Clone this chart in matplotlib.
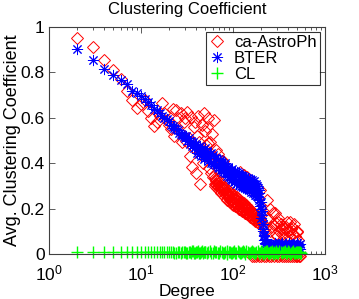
import matplotlib
matplotlib.use("Agg")
import matplotlib.pyplot as plt
from matplotlib.ticker import LogLocator, NullFormatter

plt.rcParams['font.family'] = ['Liberation Sans', 'DejaVu Sans']
plt.rcParams['mathtext.fontset'] = 'custom'
plt.rcParams['mathtext.rm'] = 'Liberation Sans'
plt.rcParams['mathtext.it'] = 'Liberation Sans:italic'

# ca-AstroPh: average clustering coefficient per degree
astro_deg = [2, 3, 4, 5, 6, 7, 8, 9, 10, 11, 12, 13, 14, 15, 16, 17, 18, 19, 20,
             21, 22, 23, 24, 25, 26, 27, 28, 29, 30, 31, 32, 33, 34, 35, 36, 37, 38, 39, 40,
             41, 42, 43, 44, 45, 46, 47, 48, 49, 50, 51, 52, 53, 54, 55, 56, 57, 58, 59,
             60, 62, 63, 64, 65, 66, 67, 68, 69, 70, 72, 74, 75, 76, 78, 80, 82, 84, 86, 88,
             90, 92, 95, 98, 100, 103, 106, 109, 112, 115, 118, 119, 121, 125, 128, 130, 132,
             136, 140, 141, 145, 150, 152, 155, 160, 166, 172, 178, 180, 185, 192, 196, 200,
             212, 220, 230, 233, 250, 260, 275, 285, 295, 300, 310, 330, 340, 350, 360, 380,
             400, 415, 440, 470, 490, 510,
             65, 68, 71, 73, 77, 79, 81, 83, 87, 89, 91, 93, 97, 99, 102, 104, 107, 110,
             113, 116, 120, 123, 126, 129, 133, 135, 138, 143, 147, 152, 157, 163, 168,
             175, 182, 188, 195,
             63, 66, 70, 74, 78, 82, 85, 88, 92, 96, 100, 101, 105, 108, 111, 114, 117, 122,
             124, 127, 131, 134, 137, 139, 142, 146, 149, 153, 156, 159, 162, 165, 169, 173,
             177, 183, 187, 193, 198,
             240, 255, 270, 290, 305, 320, 335, 355, 370, 390, 405, 425, 450, 460, 480, 500,
             160, 170, 180, 190, 200, 215, 230, 245, 260, 280, 300, 320, 340, 360, 380,
             400, 420, 440, 460, 480, 500, 520, 530]
astro_cc = [0.95, 0.91, 0.855, 0.81, 0.77, 0.72, 0.68, 0.645, 0.66, 0.68, 0.63, 0.60, 0.565, 0.58, 0.61, 0.665, 0.62, 0.59, 0.57,
            0.55, 0.64, 0.52, 0.635, 0.60, 0.54, 0.62, 0.495, 0.58, 0.60, 0.50, 0.625, 0.51, 0.43, 0.605, 0.385, 0.47, 0.56, 0.58, 0.355,
            0.52, 0.61, 0.495, 0.31, 0.45, 0.57, 0.40, 0.62, 0.54, 0.43, 0.48, 0.56, 0.49, 0.60, 0.38, 0.495, 0.355, 0.44, 0.53,
            0.34, 0.59, 0.30, 0.31, 0.33, 0.46, 0.29, 0.44, 0.31, 0.28, 0.30, 0.27, 0.41, 0.29, 0.41, 0.28, 0.25, 0.27, 0.24, 0.26,
            0.25, 0.23, 0.255, 0.22, 0.245, 0.23, 0.21, 0.24, 0.22, 0.20, 0.23, 0.36, 0.21, 0.19, 0.22, 0.20, 0.35,
            0.18, 0.21, 0.34, 0.19, 0.17, 0.325, 0.195, 0.16, 0.18, 0.15, 0.17, 0.27, 0.15, 0.16, 0.28, 0.14,
            0.19, 0.10, 0.12, 0.24, 0.20, 0.12, 0.18, 0.18, 0.135, 0.08, 0.16, 0.11, 0.09, 0.12, 0.07, 0.12,
            0.10, 0.14, 0.12, 0.08, 0.095, 0.06,
            0.32, 0.30, 0.315, 0.29, 0.30, 0.27, 0.285, 0.26, 0.275, 0.25, 0.265, 0.24, 0.26, 0.23, 0.25, 0.22, 0.24, 0.21,
            0.235, 0.20, 0.225, 0.195, 0.215, 0.19, 0.21, 0.18, 0.20, 0.175, 0.195, 0.17, 0.185, 0.16, 0.175,
            0.16, 0.155, 0.165, 0.15,
            0.335, 0.31, 0.325, 0.30, 0.285, 0.295, 0.265, 0.28, 0.255, 0.27, 0.215, 0.265, 0.245, 0.225, 0.25, 0.215, 0.24, 0.205,
            0.23, 0.20, 0.225, 0.195, 0.215, 0.185, 0.205, 0.18, 0.20, 0.165, 0.19, 0.17, 0.185, 0.155, 0.17, 0.145,
            0.165, 0.14, 0.16, 0.135, 0.155,
            0.15, 0.10, 0.13, 0.09, 0.14, 0.10, 0.13, 0.09, 0.11, 0.14, 0.08, 0.11, 0.09, 0.13, 0.07, 0.10,
            -0.01, -0.01, -0.01, -0.01, -0.01, -0.01, -0.01, -0.01, -0.01, -0.01, -0.01, -0.01, -0.01, -0.01, -0.01,
            -0.01, -0.01, -0.01, -0.01, -0.01, -0.01, -0.01, -0.01]

# BTER model
bter_deg = [2, 3, 4, 5, 6, 7, 8, 9, 10, 11, 12, 13, 14, 15, 16, 17, 18, 19, 20,
            21, 22, 23, 24, 25, 26, 27, 28, 29, 30, 31, 32, 33, 34, 35, 36, 37, 38, 39,
            40, 41, 42, 43, 44, 45, 46, 47, 48, 49, 50, 52, 54, 56, 58, 60, 62, 64, 66, 68,
            70, 72, 74, 76, 78, 80, 82, 84, 86, 88, 90, 92, 94, 96, 98, 100, 103, 106, 109,
            112, 115, 118, 121, 124, 127, 130, 134, 138, 142, 146, 150, 154, 158, 162, 166,
            170, 174, 178, 182, 186, 190, 194, 198, 202, 205, 208, 211, 214, 217, 220, 225,
            230, 240, 250, 260, 270, 280, 290, 300, 315, 330, 345, 360, 380, 400, 420, 440,
            460, 480, 500, 520, 540,
            53, 57, 61, 65, 69, 73, 77, 81, 85, 89, 93, 97, 101, 104, 107, 110, 113, 116,
            119, 122, 125, 128, 132, 136, 140, 144, 148, 152, 156, 160, 164, 168, 172, 176,
            180, 184, 188, 192, 196, 200, 204, 210, 213, 216, 219,
            235, 255, 265, 285, 295, 310, 322, 338, 352, 370, 390, 410, 430, 450, 470, 490,
            510, 530]
bter_cc = [0.905, 0.855, 0.815, 0.79, 0.765, 0.75, 0.72, 0.71, 0.695, 0.685, 0.67, 0.655, 0.64, 0.635, 0.62, 0.61, 0.60, 0.595, 0.585,
           0.57, 0.565, 0.555, 0.55, 0.545, 0.535, 0.53, 0.525, 0.52, 0.51, 0.52, 0.50, 0.51, 0.485, 0.50, 0.475, 0.495, 0.465, 0.485,
           0.48, 0.445, 0.47, 0.44, 0.475, 0.43, 0.46, 0.445, 0.42, 0.465, 0.43, 0.455, 0.41, 0.44, 0.40, 0.435, 0.395, 0.425, 0.39, 0.42,
           0.38, 0.415, 0.37, 0.40, 0.36, 0.395, 0.355, 0.385, 0.345, 0.38, 0.34, 0.37, 0.33, 0.365, 0.325, 0.36, 0.315, 0.355, 0.31,
           0.35, 0.305, 0.34, 0.30, 0.345, 0.295, 0.335, 0.29, 0.33, 0.285, 0.325, 0.28, 0.32, 0.275, 0.315, 0.27,
           0.31, 0.26, 0.30, 0.255, 0.29, 0.24, 0.27, 0.21, 0.23, 0.17, 0.19, 0.13, 0.11, 0.085, 0.065, 0.05,
           0.045, 0.04, 0.035, 0.045, 0.04, 0.03, 0.045, 0.04, 0.035, 0.045, 0.04, 0.03, 0.045, 0.04, 0.035, 0.04,
           0.03, 0.04, 0.035, 0.03, 0.02,
           0.425, 0.445, 0.40, 0.425, 0.385, 0.41, 0.37, 0.40, 0.36, 0.385, 0.345, 0.375, 0.34, 0.365, 0.325, 0.36, 0.32, 0.355,
           0.31, 0.35, 0.305, 0.345, 0.30, 0.34, 0.295, 0.335, 0.29, 0.33, 0.285, 0.325, 0.28, 0.32, 0.27, 0.31,
           0.26, 0.30, 0.25, 0.28, 0.23, 0.20, 0.16, 0.13, 0.10, 0.08, 0.06,
           0.05, 0.04, 0.03, 0.05, 0.035, 0.045, 0.03, 0.05, 0.035, 0.045, 0.03, 0.05, 0.04, 0.045, 0.035, 0.05,
           0.04, 0.045]

# Chung-Lu model
cl_deg = [2, 3, 4, 5, 6, 7, 8, 9, 10, 11, 12, 13, 14, 15, 16, 17, 18, 19, 20, 22, 24, 26, 28,
          30, 32, 34, 36, 38, 40, 43, 46, 50, 54, 58, 62, 66, 70, 75, 80, 85, 90, 95, 100,
          106, 112, 118, 125, 132, 140, 148, 156, 165, 175, 185, 195, 205, 215, 230, 245,
          260, 275, 290, 310, 330, 350, 370, 390, 410, 430, 450, 470, 490, 510, 530, 550,
          21, 23, 25, 27, 29, 31, 33, 35, 37, 39, 41, 42, 44, 45, 47, 48, 49, 52, 56, 60,
          64, 68, 72, 77, 82, 87, 92, 97, 103, 109, 115, 121, 128, 136, 144, 152, 160, 170,
          180, 190, 200, 210, 220, 225, 235, 240, 250, 255, 265, 270, 280, 285, 295, 300,
          320, 340, 360, 380, 400, 420, 440, 460, 480, 500, 520, 540]
cl_cc = [0.007, 0.007, 0.008, 0.007, 0.008, 0.007, 0.008, 0.008, 0.007, 0.008, 0.009, 0.007, 0.008, 0.009, 0.007, 0.008, 0.009, 0.007, 0.008, 0.010, 0.006, 0.009, 0.007,
         0.011, 0.005, 0.009, 0.012, 0.006, 0.010, 0.004, 0.012, 0.007, 0.010, 0.005, 0.012, 0.008, 0.004, 0.011, 0.006, 0.012, 0.009, 0.004, 0.011,
         0.006, 0.012, 0.003, 0.010, 0.007, 0.012, 0.004, 0.009, 0.011, 0.005, 0.012, 0.003, 0.010, 0.007, 0.012, 0.004,
         0.010, 0.006, 0.012, 0.003, 0.011, 0.007, 0.012, 0.004, 0.010, 0.006, 0.012, 0.003, 0.011, 0.007, 0.010, 0.005,
         0.008, 0.006, 0.010, 0.005, 0.009, 0.004, 0.011, 0.006, 0.012, 0.003, 0.009, 0.012, 0.005, 0.010, 0.003, 0.011, 0.007, 0.004, 0.012, 0.006,
         0.010, 0.003, 0.012, 0.005, 0.009, 0.002, 0.011, 0.006, 0.012, 0.003, 0.009, 0.005, 0.012, 0.002, 0.010, 0.006, 0.012, 0.003,
         0.009, 0.005, 0.012, 0.002, 0.010, 0.006, 0.012, 0.003, 0.009, 0.005, 0.012, 0.002, 0.010, 0.006, 0.011, 0.004,
         0.012, 0.003, 0.009, 0.005, 0.012, 0.002, 0.010, 0.006, 0.011, 0.003, 0.009, 0.005]

fig = plt.figure(figsize=(3.59, 2.99), dpi=100)
ax = fig.add_axes([0.1365, 0.1505, 0.7688, 0.7592])

ax.plot(astro_deg, astro_cc, linestyle='none', marker='D', markersize=6.5, mfc='none',
        mec=(1, 0, 0), mew=0.7, label='ca-AstroPh', clip_on=False)
ax.plot(bter_deg, bter_cc, linestyle='none', marker=(8, 2, 0), markersize=8,
        mec=(0, 0, 1), mew=0.7, label='BTER', clip_on=False)
ax.plot(cl_deg, cl_cc, linestyle='none', marker='+', markersize=8,
        mec=(0, 1, 0), mew=1.0, label='CL', clip_on=False)

ax.set_xscale('log')
ax.set_xlim(1, 1000)
ax.set_ylim(0, 1)
ax.set_yticks([0, 0.2, 0.4, 0.6, 0.8, 1])
ax.set_yticklabels(['0', '0.2', '0.4', '0.6', '0.8', '1'])
ax.xaxis.set_major_locator(LogLocator(base=10, numticks=10))
ax.xaxis.set_minor_locator(LogLocator(base=10, subs=range(2, 10), numticks=10))
ax.xaxis.set_minor_formatter(NullFormatter())

ax.tick_params(which='both', direction='in', top=True, right=True, labelsize=12.5,
               color='#404040', width=0.6)
ax.tick_params(which='major', length=4)
ax.tick_params(which='minor', length=2)
ax.tick_params(axis='x', pad=7)
ax.tick_params(axis='y', pad=3)
for s in ax.spines.values():
    s.set_color('#404040')
    s.set_linewidth(0.8)
    s.set_zorder(5)

ax.set_xlabel('Degree', fontsize=12.5, labelpad=0)
ax.set_ylabel('Avg. Clustering Coefficient', fontsize=13)
ax.yaxis.set_label_coords(-0.1, 0.5)
ax.set_title('Clustering Coefficient', fontsize=12, pad=9)

leg = ax.legend(loc='upper right', numpoints=1, fontsize=12, frameon=True, fancybox=False,
                borderaxespad=0.3, handlelength=1.0, handletextpad=0.5, borderpad=0.2,
                labelspacing=0.05)
leg.get_frame().set_edgecolor('black')
leg.get_frame().set_linewidth(0.8)

fig.savefig('out.png', dpi=100)
